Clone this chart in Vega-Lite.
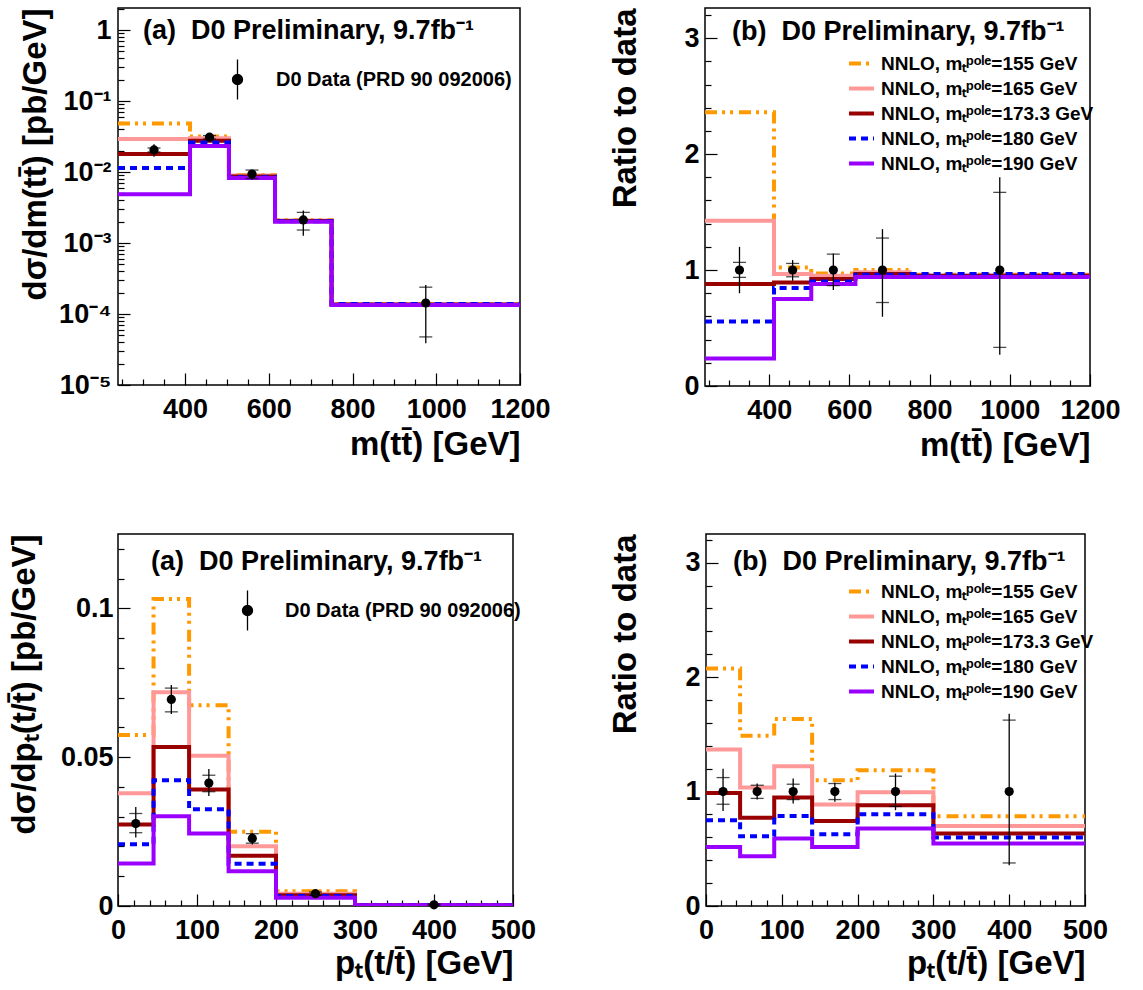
{
  "$schema": "https://vega.github.io/schema/vega-lite/v6.json",
  "background": "white",
  "padding": {"left": 7, "top": 7, "right": 5, "bottom": 5},
  "config": {
    "font": "Liberation Sans",
    "view": {"stroke": "black", "strokeWidth": 1.5},
    "axis": {"domain": false, "grid": false, "labelFont": "Liberation Sans", "labelFontWeight": "bold", "labelColor": "black", "titleFont": "Liberation Sans", "titleFontSize": 33, "titleFontWeight": "bold", "titleColor": "black", "tickColor": "black", "tickWidth": 1.2, "labelFlush": false, "titleAnchor": "end", "tickCount": 200, "labelOverlap": false},
    "legend": {"labelFont": "Liberation Sans", "labelFontWeight": "bold", "labelColor": "black"},
    "title": {"font": "Liberation Sans", "fontSize": 27, "fontWeight": "bold", "color": "black", "anchor": "start", "frame": "group", "baseline": "middle", "offset": -24}
  },
  "datasets": {
    "mtt_pred": [
      {"mass": "155", "edge": 240, "xs": 0.0484, "ratio": 2.36},
      {"mass": "155", "edge": 412, "xs": 0.03168, "ratio": 1.022},
      {"mass": "155", "edge": 505, "xs": 0.00911, "ratio": 0.971},
      {"mass": "155", "edge": 615, "xs": 0.00212, "ratio": 1.0},
      {"mass": "155", "edge": 750, "xs": 0.0001373, "ratio": 0.96},
      {"mass": "155", "edge": 1200, "xs": 0.0001373, "ratio": 0.96},
      {"mass": "165", "edge": 240, "xs": 0.0292, "ratio": 1.425},
      {"mass": "165", "edge": 412, "xs": 0.02992, "ratio": 0.965},
      {"mass": "165", "edge": 505, "xs": 0.00892, "ratio": 0.951},
      {"mass": "165", "edge": 615, "xs": 0.002078, "ratio": 0.98},
      {"mass": "165", "edge": 750, "xs": 0.0001359, "ratio": 0.95},
      {"mass": "165", "edge": 1200, "xs": 0.0001359, "ratio": 0.95},
      {"mass": "173.3", "edge": 240, "xs": 0.018, "ratio": 0.88},
      {"mass": "173.3", "edge": 412, "xs": 0.02768, "ratio": 0.893},
      {"mass": "173.3", "edge": 505, "xs": 0.00865, "ratio": 0.922},
      {"mass": "173.3", "edge": 615, "xs": 0.002046, "ratio": 0.965},
      {"mass": "173.3", "edge": 750, "xs": 0.0001359, "ratio": 0.95},
      {"mass": "173.3", "edge": 1200, "xs": 0.0001359, "ratio": 0.95},
      {"mass": "180", "edge": 240, "xs": 0.01142, "ratio": 0.557},
      {"mass": "180", "edge": 412, "xs": 0.0262, "ratio": 0.845},
      {"mass": "180", "edge": 505, "xs": 0.00846, "ratio": 0.902},
      {"mass": "180", "edge": 615, "xs": 0.002035, "ratio": 0.96},
      {"mass": "180", "edge": 750, "xs": 0.0001381, "ratio": 0.966},
      {"mass": "180", "edge": 1200, "xs": 0.0001381, "ratio": 0.966},
      {"mass": "190", "edge": 240, "xs": 0.00488, "ratio": 0.238},
      {"mass": "190", "edge": 412, "xs": 0.02325, "ratio": 0.75},
      {"mass": "190", "edge": 505, "xs": 0.00825, "ratio": 0.879},
      {"mass": "190", "edge": 615, "xs": 0.001993, "ratio": 0.94},
      {"mass": "190", "edge": 750, "xs": 0.0001344, "ratio": 0.94},
      {"mass": "190", "edge": 1200, "xs": 0.0001344, "ratio": 0.94}
    ],
    "mtt_data": [
      {"x": 326, "xs": 0.0205, "tlo": 0.0164, "thi": 0.0246, "slo": 0.01919, "shi": 0.02185, "r": 1, "rtlo": 0.80, "rthi": 1.20, "rslo": 0.936, "rshi": 1.066},
      {"x": 458.5, "xs": 0.031, "tlo": 0.02815, "thi": 0.03367, "slo": 0.0292, "shi": 0.03277, "r": 1, "rtlo": 0.908, "rthi": 1.086, "rslo": 0.942, "rshi": 1.057},
      {"x": 560, "xs": 0.00938, "tlo": 0.007767, "thi": 0.01072, "slo": 0.008114, "shi": 0.010674, "r": 1, "rtlo": 0.828, "rthi": 1.143, "rslo": 0.865, "rshi": 1.138},
      {"x": 682.5, "xs": 0.00212, "tlo": 0.001266, "thi": 0.002868, "slo": 0.001526, "shi": 0.002705, "r": 1, "rtlo": 0.597, "rthi": 1.353, "rslo": 0.72, "rshi": 1.276},
      {"x": 975, "xs": 0.000143, "tlo": 0.0000386, "thi": 0.0002574, "slo": 0.0000476, "shi": 0.0002388, "r": 1, "rtlo": 0.27, "rthi": 1.80, "rslo": 0.333, "rshi": 1.67}
    ],
    "pt_pred": [
      {"mass": "155", "edge": 0, "xs": 0.0575, "ratio": 2.076},
      {"mass": "155", "edge": 45, "xs": 0.1032, "ratio": 1.487},
      {"mass": "155", "edge": 90, "xs": 0.06744, "ratio": 1.633},
      {"mass": "155", "edge": 140, "xs": 0.02495, "ratio": 1.099},
      {"mass": "155", "edge": 200, "xs": 0.004926, "ratio": 1.187},
      {"mass": "155", "edge": 300, "xs": 0.000314, "ratio": 0.784},
      {"mass": "155", "edge": 500, "xs": 0.000314, "ratio": 0.784},
      {"mass": "165", "edge": 0, "xs": 0.03787, "ratio": 1.367},
      {"mass": "165", "edge": 45, "xs": 0.0718, "ratio": 1.035},
      {"mass": "165", "edge": 90, "xs": 0.05047, "ratio": 1.222},
      {"mass": "165", "edge": 140, "xs": 0.02011, "ratio": 0.886},
      {"mass": "165", "edge": 200, "xs": 0.004125, "ratio": 0.994},
      {"mass": "165", "edge": 300, "xs": 0.00028, "ratio": 0.70},
      {"mass": "165", "edge": 500, "xs": 0.00028, "ratio": 0.70},
      {"mass": "173.3", "edge": 0, "xs": 0.02737, "ratio": 0.988},
      {"mass": "173.3", "edge": 45, "xs": 0.0534, "ratio": 0.770},
      {"mass": "173.3", "edge": 90, "xs": 0.03915, "ratio": 0.948},
      {"mass": "173.3", "edge": 140, "xs": 0.01687, "ratio": 0.743},
      {"mass": "173.3", "edge": 200, "xs": 0.003652, "ratio": 0.88},
      {"mass": "173.3", "edge": 300, "xs": 0.000253, "ratio": 0.633},
      {"mass": "173.3", "edge": 500, "xs": 0.000253, "ratio": 0.633},
      {"mass": "180", "edge": 0, "xs": 0.02075, "ratio": 0.749},
      {"mass": "180", "edge": 45, "xs": 0.04226, "ratio": 0.609},
      {"mass": "180", "edge": 90, "xs": 0.0325, "ratio": 0.787},
      {"mass": "180", "edge": 140, "xs": 0.01423, "ratio": 0.627},
      {"mass": "180", "edge": 200, "xs": 0.003328, "ratio": 0.802},
      {"mass": "180", "edge": 300, "xs": 0.000239, "ratio": 0.598},
      {"mass": "180", "edge": 500, "xs": 0.000239, "ratio": 0.598},
      {"mass": "190", "edge": 0, "xs": 0.01429, "ratio": 0.516},
      {"mass": "190", "edge": 45, "xs": 0.03012, "ratio": 0.434},
      {"mass": "190", "edge": 90, "xs": 0.02433, "ratio": 0.589},
      {"mass": "190", "edge": 140, "xs": 0.01171, "ratio": 0.516},
      {"mass": "190", "edge": 200, "xs": 0.002805, "ratio": 0.676},
      {"mass": "190", "edge": 300, "xs": 0.000218, "ratio": 0.545},
      {"mass": "190", "edge": 500, "xs": 0.000218, "ratio": 0.545}
    ],
    "pt_data": [
      {"x": 22.5, "xs": 0.0277, "tlo": 0.02299, "thi": 0.03324, "slo": 0.02463, "shi": 0.03108, "r": 1, "rtlo": 0.83, "rthi": 1.20, "rslo": 0.889, "rshi": 1.122},
      {"x": 67.5, "xs": 0.0694, "tlo": 0.06454, "thi": 0.07426, "slo": 0.06524, "shi": 0.07322, "r": 1, "rtlo": 0.93, "rthi": 1.07, "rslo": 0.94, "rshi": 1.055},
      {"x": 115, "xs": 0.0413, "tlo": 0.03696, "thi": 0.04601, "slo": 0.03841, "shi": 0.04394, "r": 1, "rtlo": 0.895, "rthi": 1.114, "rslo": 0.93, "rshi": 1.064},
      {"x": 170, "xs": 0.0227, "tlo": 0.02066, "thi": 0.02443, "slo": 0.02111, "shi": 0.02429, "r": 1, "rtlo": 0.91, "rthi": 1.076, "rslo": 0.93, "rshi": 1.07},
      {"x": 250, "xs": 0.00415, "tlo": 0.003474, "thi": 0.004802, "slo": 0.00361, "shi": 0.004706, "r": 1, "rtlo": 0.837, "rthi": 1.157, "rslo": 0.87, "rshi": 1.134},
      {"x": 400, "xs": 0.0004, "tlo": 0.000142, "thi": 0.000672, "slo": 0.00015, "shi": 0.00065, "r": 1, "rtlo": 0.356, "rthi": 1.68, "rslo": 0.376, "rshi": 1.624}
    ]
  },
  "columns": 2,
  "align": {"row": "each", "column": "none"},
  "spacing": {"row": 70, "column": 58},
  "resolve": {"scale": {"color": "independent", "strokeDash": "independent", "fill": "independent"}, "legend": {"color": "independent", "strokeDash": "independent", "fill": "independent"}},
  "concat": [
    {
      "width": 402, "height": 377,
      "title": {"text": "(a)\u00a0 D0 Preliminary, 9.7fb⁻¹", "dx": 25, "dy": 13},
      "layer": [
        {
          "data": {"name": "mtt_pred"},
          "mark": {"type": "line", "interpolate": "step-after", "strokeWidth": 4, "clip": true, "strokeCap": "butt"},
          "encoding": {
            "x": {"field": "edge", "type": "quantitative", "title": "m(tt̄) [GeV]", "scale": {"domain": [240, 1200], "nice": false, "zero": false},
              "axis": {"values": [250,300,350,400,450,500,550,600,650,700,750,800,850,900,950,1000,1050,1100,1150,1200], "tickCount": 200,
                "labelExpr": "indexof([400,600,800,1000,1200], datum.value) >= 0 ? '' + datum.value : ''",
                "labelFontSize": {"condition": {"test": "indexof([400,600,800,1000,1200], datum.value) >= 0", "value": 27}, "value": 0},
                "tickSize": {"condition": {"test": "indexof([400,600,800,1000,1200], datum.value) >= 0", "value": -12}, "value": -6},
                "labelOverlap": false, "labelPadding": 23, "titlePadding": 6}},
            "y": {"field": "xs", "type": "quantitative", "title": "dσ/dm(tt̄) [pb/GeV]", "scale": {"type": "log", "domain": [0.00001, 2.05], "nice": false},
              "axis": {"values": [1e-5,2e-5,3e-5,4e-5,5e-5,6e-5,7e-5,8e-5,9e-5,1e-4,2e-4,3e-4,4e-4,5e-4,6e-4,7e-4,8e-4,9e-4,0.001,0.002,0.003,0.004,0.005,0.006,0.007,0.008,0.009,0.01,0.02,0.03,0.04,0.05,0.06,0.07,0.08,0.09,0.1,0.2,0.3,0.4,0.5,0.6,0.7,0.8,0.9,1,2], "tickCount": 200,
                "labelExpr": "datum.value == 1 ? '1' : datum.value == 0.1 ? '10⁻¹' : datum.value == 0.01 ? '10⁻²' : datum.value == 0.001 ? '10⁻³' : datum.value == 0.0001 ? '10⁻⁴' : datum.value == 0.00001 ? '10⁻⁵' : ''",
                "labelFontSize": {"condition": {"test": "indexof([0.00001,0.0001,0.001,0.01,0.1,1], datum.value) >= 0", "value": 27}, "value": 0},
                "tickSize": {"condition": {"test": "indexof([0.00001,0.0001,0.001,0.01,0.1,1], datum.value) >= 0", "value": -12}, "value": -6},
                "labelOverlap": false, "labelPadding": 19, "titlePadding": 6}},
            "color": {"field": "mass", "type": "nominal", "scale": {"domain": ["155", "165", "173.3", "180", "190"], "range": ["#FF9900", "#FF9999", "#990000", "#0000FF", "#9900FF"]}, "legend": null},
            "strokeDash": {"field": "mass", "type": "nominal", "scale": {"domain": ["155", "165", "173.3", "180", "190"], "range": [[12,5,3,5,3,6],[1,0],[1,0],[7,5],[1,0]]}, "legend": null}
          }
        },
        {
          "data": {"name": "mtt_data"},
          "mark": {"type": "rule", "color": "black", "strokeWidth": 1.3},
          "encoding": {"x": {"field": "x", "type": "quantitative"}, "y": {"field": "tlo", "type": "quantitative"}, "y2": {"field": "thi"}}
        },
        {
          "data": {"name": "mtt_data"},
          "mark": {"type": "tick", "orient": "horizontal", "size": 13, "thickness": 1.3, "color": "black"},
          "encoding": {"x": {"field": "x", "type": "quantitative"}, "y": {"field": "slo", "type": "quantitative"}}
        },
        {
          "data": {"name": "mtt_data"},
          "mark": {"type": "tick", "orient": "horizontal", "size": 13, "thickness": 1.3, "color": "black"},
          "encoding": {"x": {"field": "x", "type": "quantitative"}, "y": {"field": "shi", "type": "quantitative"}}
        },
        {
          "data": {"name": "mtt_data"},
          "mark": {"type": "point", "filled": true, "size": 85, "shape": "circle", "opacity": 1, "stroke": "black", "strokeWidth": 0},
          "encoding": {"x": {"field": "x", "type": "quantitative"}, "y": {"field": "xs", "type": "quantitative"},
            "fill": {"datum": "D0 Data (PRD 90 092006)", "scale": {"range": ["black"]},
              "legend": {"orient": "none", "legendX": 102, "legendY": 54, "title": null, "symbolType": "M0.3,0C0.3,0.1657,0.1657,0.3,0,0.3C-0.1657,0.3,-0.3,0.1657,-0.3,0C-0.3,-0.1657,-0.1657,-0.3,0,-0.3C0.1657,-0.3,0.3,-0.1657,0.3,0ZM0,-1.2L0,1.2", "symbolSize": 1111, "symbolFillColor": "black", "symbolStrokeColor": "black", "symbolStrokeWidth": 1.3, "labelFontSize": 20, "labelOffset": 21, "labelLimit": 400, "padding": 0}}}
        }
      ]
    },
    {
      "width": 385, "height": 378,
      "title": {"text": "(b)\u00a0 D0 Preliminary, 9.7fb⁻¹", "dx": 27, "dy": 14},
      "layer": [
        {
          "data": {"name": "mtt_pred"},
          "mark": {"type": "line", "interpolate": "step-after", "strokeWidth": 4, "clip": true, "strokeCap": "butt"},
          "encoding": {
            "x": {"field": "edge", "type": "quantitative", "title": "m(tt̄) [GeV]", "scale": {"domain": [240, 1200], "nice": false, "zero": false},
              "axis": {"values": [250,300,350,400,450,500,550,600,650,700,750,800,850,900,950,1000,1050,1100,1150,1200], "tickCount": 200,
                "labelExpr": "indexof([400,600,800,1000,1200], datum.value) >= 0 ? '' + datum.value : ''",
                "labelFontSize": {"condition": {"test": "indexof([400,600,800,1000,1200], datum.value) >= 0", "value": 27}, "value": 0},
                "tickSize": {"condition": {"test": "indexof([400,600,800,1000,1200], datum.value) >= 0", "value": -12}, "value": -6},
                "labelOverlap": false, "labelPadding": 23, "titlePadding": 6}},
            "y": {"field": "ratio", "type": "quantitative", "title": "Ratio to data", "scale": {"domain": [0, 3.26], "nice": false},
              "axis": {"values": [0,0.2,0.4,0.6,0.8,1,1.2,1.4,1.6,1.8,2,2.2,2.4,2.6,2.8,3,3.2], "tickCount": 200,
                "labelExpr": "indexof([0,1,2,3], datum.value) >= 0 ? '' + datum.value : ''",
                "labelFontSize": {"condition": {"test": "indexof([0,1,2,3], datum.value) >= 0", "value": 27}, "value": 0},
                "tickSize": {"condition": {"test": "indexof([0,1,2,3], datum.value) >= 0", "value": -12}, "value": -6},
                "labelOverlap": false, "labelPadding": 18, "titlePadding": 41}},
            "color": {"field": "mass", "type": "nominal", "scale": {"domain": ["155", "165", "173.3", "180", "190"], "range": ["#FF9900", "#FF9999", "#990000", "#0000FF", "#9900FF"]},
              "legend": {"orient": "none", "legendX": 142, "legendY": 41, "title": null, "symbolType": "stroke", "symbolStrokeWidth": 4, "symbolSize": 625, "labelFontSize": 19, "labelOffset": 5, "rowPadding": 0, "labelLimit": 400, "padding": 0, "labelExpr": "'NNLO, mₜᵖᵒˡᵉ=' + datum.label + ' GeV'"}},
            "strokeDash": {"field": "mass", "type": "nominal", "scale": {"domain": ["155", "165", "173.3", "180", "190"], "range": [[12,5,3,5,3,6],[1,0],[1,0],[7,5],[1,0]]}}
          }
        },
        {
          "data": {"name": "mtt_data"},
          "mark": {"type": "rule", "color": "black", "strokeWidth": 1.3},
          "encoding": {"x": {"field": "x", "type": "quantitative"}, "y": {"field": "rtlo", "type": "quantitative"}, "y2": {"field": "rthi"}}
        },
        {
          "data": {"name": "mtt_data"},
          "mark": {"type": "tick", "orient": "horizontal", "size": 13, "thickness": 1.3, "color": "black"},
          "encoding": {"x": {"field": "x", "type": "quantitative"}, "y": {"field": "rslo", "type": "quantitative"}}
        },
        {
          "data": {"name": "mtt_data"},
          "mark": {"type": "tick", "orient": "horizontal", "size": 13, "thickness": 1.3, "color": "black"},
          "encoding": {"x": {"field": "x", "type": "quantitative"}, "y": {"field": "rshi", "type": "quantitative"}}
        },
        {
          "data": {"name": "mtt_data"},
          "mark": {"type": "point", "filled": true, "size": 85, "color": "black", "opacity": 1},
          "encoding": {"x": {"field": "x", "type": "quantitative"}, "y": {"field": "r", "type": "quantitative"}}
        }
      ]
    },
    {
      "width": 395, "height": 372,
      "title": {"text": "(a)\u00a0 D0 Preliminary, 9.7fb⁻¹", "dx": 33, "dy": 18},
      "layer": [
        {
          "data": {"name": "pt_pred"},
          "mark": {"type": "line", "interpolate": "step-after", "strokeWidth": 4, "clip": true, "strokeCap": "butt"},
          "encoding": {
            "x": {"field": "edge", "type": "quantitative", "title": "pₜ(t/t̄) [GeV]", "scale": {"domain": [0, 500], "nice": false},
              "axis": {"values": [0,20,40,60,80,100,120,140,160,180,200,220,240,260,280,300,320,340,360,380,400,420,440,460,480,500], "tickCount": 200,
                "labelExpr": "indexof([0,100,200,300,400,500], datum.value) >= 0 ? '' + datum.value : ''",
                "labelFontSize": {"condition": {"test": "indexof([0,100,200,300,400,500], datum.value) >= 0", "value": 27}, "value": 0},
                "tickSize": {"condition": {"test": "indexof([0,100,200,300,400,500], datum.value) >= 0", "value": -12}, "value": -6},
                "labelOverlap": false, "labelPadding": 23, "titlePadding": 4}},
            "y": {"field": "xs", "type": "quantitative", "title": "dσ/dpₜ(t/t̄) [pb/GeV]", "scale": {"domain": [0, 0.125], "nice": false},
              "axis": {"values": [0,0.01,0.02,0.03,0.04,0.05,0.06,0.07,0.08,0.09,0.1,0.11,0.12], "tickCount": 200,
                "labelExpr": "datum.value == 0 ? '0' : datum.value == 0.05 ? '0.05' : datum.value == 0.1 ? '0.1' : ''",
                "labelFontSize": {"condition": {"test": "indexof([0,0.05,0.1], datum.value) >= 0", "value": 27}, "value": 0},
                "tickSize": {"condition": {"test": "indexof([0,0.05,0.1], datum.value) >= 0", "value": -12}, "value": -6},
                "labelOverlap": false, "labelPadding": 17, "titlePadding": 19}},
            "color": {"field": "mass", "type": "nominal", "scale": {"domain": ["155", "165", "173.3", "180", "190"], "range": ["#FF9900", "#FF9999", "#990000", "#0000FF", "#9900FF"]}, "legend": null},
            "strokeDash": {"field": "mass", "type": "nominal", "scale": {"domain": ["155", "165", "173.3", "180", "190"], "range": [[12,5,3,5,3,6],[1,0],[1,0],[7,5],[1,0]]}, "legend": null}
          }
        },
        {
          "data": {"name": "pt_data"},
          "mark": {"type": "rule", "color": "black", "strokeWidth": 1.3},
          "encoding": {"x": {"field": "x", "type": "quantitative"}, "y": {"field": "tlo", "type": "quantitative"}, "y2": {"field": "thi"}}
        },
        {
          "data": {"name": "pt_data"},
          "mark": {"type": "tick", "orient": "horizontal", "size": 13, "thickness": 1.3, "color": "black"},
          "encoding": {"x": {"field": "x", "type": "quantitative"}, "y": {"field": "slo", "type": "quantitative"}}
        },
        {
          "data": {"name": "pt_data"},
          "mark": {"type": "tick", "orient": "horizontal", "size": 13, "thickness": 1.3, "color": "black"},
          "encoding": {"x": {"field": "x", "type": "quantitative"}, "y": {"field": "shi", "type": "quantitative"}}
        },
        {
          "data": {"name": "pt_data"},
          "mark": {"type": "point", "filled": true, "size": 85, "shape": "circle", "opacity": 1, "stroke": "black", "strokeWidth": 0},
          "encoding": {"x": {"field": "x", "type": "quantitative"}, "y": {"field": "xs", "type": "quantitative"},
            "fill": {"datum": "D0 Data (PRD 90 092006)", "scale": {"range": ["black"]},
              "legend": {"orient": "none", "legendX": 112, "legendY": 59, "title": null, "symbolType": "M0.3,0C0.3,0.1657,0.1657,0.3,0,0.3C-0.1657,0.3,-0.3,0.1657,-0.3,0C-0.3,-0.1657,-0.1657,-0.3,0,-0.3C0.1657,-0.3,0.3,-0.1657,0.3,0ZM0,-1.2L0,1.2", "symbolSize": 1111, "symbolFillColor": "black", "symbolStrokeColor": "black", "symbolStrokeWidth": 1.3, "labelFontSize": 20, "labelOffset": 20, "labelLimit": 400, "padding": 0}}}
        }
      ]
    },
    {
      "width": 379, "height": 372,
      "title": {"text": "(b)\u00a0 D0 Preliminary, 9.7fb⁻¹", "dx": 27, "dy": 18},
      "layer": [
        {
          "data": {"name": "pt_pred"},
          "mark": {"type": "line", "interpolate": "step-after", "strokeWidth": 4, "clip": true, "strokeCap": "butt"},
          "encoding": {
            "x": {"field": "edge", "type": "quantitative", "title": "pₜ(t/t̄) [GeV]", "scale": {"domain": [0, 500], "nice": false},
              "axis": {"values": [0,20,40,60,80,100,120,140,160,180,200,220,240,260,280,300,320,340,360,380,400,420,440,460,480,500], "tickCount": 200,
                "labelExpr": "indexof([0,100,200,300,400,500], datum.value) >= 0 ? '' + datum.value : ''",
                "labelFontSize": {"condition": {"test": "indexof([0,100,200,300,400,500], datum.value) >= 0", "value": 27}, "value": 0},
                "tickSize": {"condition": {"test": "indexof([0,100,200,300,400,500], datum.value) >= 0", "value": -12}, "value": -6},
                "labelOverlap": false, "labelPadding": 23, "titlePadding": 4}},
            "y": {"field": "ratio", "type": "quantitative", "title": "Ratio to data", "scale": {"domain": [0, 3.25], "nice": false},
              "axis": {"values": [0,0.2,0.4,0.6,0.8,1,1.2,1.4,1.6,1.8,2,2.2,2.4,2.6,2.8,3,3.2], "tickCount": 200,
                "labelExpr": "indexof([0,1,2,3], datum.value) >= 0 ? '' + datum.value : ''",
                "labelFontSize": {"condition": {"test": "indexof([0,1,2,3], datum.value) >= 0", "value": 27}, "value": 0},
                "tickSize": {"condition": {"test": "indexof([0,1,2,3], datum.value) >= 0", "value": -12}, "value": -6},
                "labelOverlap": false, "labelPadding": 18, "titlePadding": 42}},
            "color": {"field": "mass", "type": "nominal", "scale": {"domain": ["155", "165", "173.3", "180", "190"], "range": ["#FF9900", "#FF9999", "#990000", "#0000FF", "#9900FF"]},
              "legend": {"orient": "none", "legendX": 141, "legendY": 43, "title": null, "symbolType": "stroke", "symbolStrokeWidth": 4, "symbolSize": 625, "labelFontSize": 19, "labelOffset": 5, "rowPadding": 0, "labelLimit": 400, "padding": 0, "labelExpr": "'NNLO, mₜᵖᵒˡᵉ=' + datum.label + ' GeV'"}},
            "strokeDash": {"field": "mass", "type": "nominal", "scale": {"domain": ["155", "165", "173.3", "180", "190"], "range": [[12,5,3,5,3,6],[1,0],[1,0],[7,5],[1,0]]}}
          }
        },
        {
          "data": {"name": "pt_data"},
          "mark": {"type": "rule", "color": "black", "strokeWidth": 1.3},
          "encoding": {"x": {"field": "x", "type": "quantitative"}, "y": {"field": "rtlo", "type": "quantitative"}, "y2": {"field": "rthi"}}
        },
        {
          "data": {"name": "pt_data"},
          "mark": {"type": "tick", "orient": "horizontal", "size": 13, "thickness": 1.3, "color": "black"},
          "encoding": {"x": {"field": "x", "type": "quantitative"}, "y": {"field": "rslo", "type": "quantitative"}}
        },
        {
          "data": {"name": "pt_data"},
          "mark": {"type": "tick", "orient": "horizontal", "size": 13, "thickness": 1.3, "color": "black"},
          "encoding": {"x": {"field": "x", "type": "quantitative"}, "y": {"field": "rshi", "type": "quantitative"}}
        },
        {
          "data": {"name": "pt_data"},
          "mark": {"type": "point", "filled": true, "size": 85, "color": "black", "opacity": 1},
          "encoding": {"x": {"field": "x", "type": "quantitative"}, "y": {"field": "r", "type": "quantitative"}}
        }
      ]
    }
  ]
}
